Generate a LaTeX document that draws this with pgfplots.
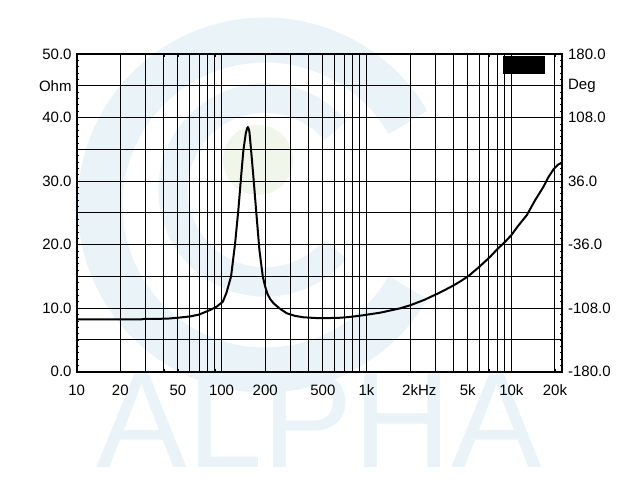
\documentclass[border=0pt]{standalone}
\usepackage{fontspec}
\setmainfont{Liberation Sans}
\usepackage{pgfplots}
\pgfplotsset{compat=1.18}
\definecolor{wm}{RGB}{233,243,248}
\definecolor{wmg}{RGB}{241,246,235}
\begin{document}
\begin{tikzpicture}
\useasboundingbox (0,0) rectangle (480pt,-360pt);
\begin{scope}[x=0.75pt,y=-0.75pt]
  \draw[wm, line width=33.75pt] (265,205) ++(30:165) arc[start angle=30,end angle=330,radius=165];
  \draw[wm, line width=22pt] (265,190) ++(40:92) arc[start angle=40,end angle=320,radius=92];
  \fill[wmg] (258,160) circle (35);
  \node[anchor=base west, inner sep=0pt, text=wm, font=\fontsize{101.8}{110}\selectfont] at (96.7,467) {ALPHA};
\end{scope}
\begin{axis}[
  at={(57.5pt,-278.8pt)}, anchor=south west,
  scale only axis, width=364.3pt, height=238.3pt,
  xmode=log, xmin=10, xmax=22500, ymin=0, ymax=50,
  axis line style={line width=1.5pt},
  xtick={10,20,50,100,200,500,1000,2000,5000,10000,20000},
  xticklabels={10,20,50,100,200,500,1k,2k\rlap{Hz},5k,10k,20k},
  minor xtick={30,40,60,70,80,90,300,400,600,700,800,900,3000,4000,6000,7000,8000,9000},
  xmajorgrids, xminorgrids, ymajorgrids,
  major grid style={black, line width=0.75pt},
  minor grid style={black, line width=0.75pt},
  ytick={0,5,...,50},
  yticklabels={0.0,,10.0,,20.0,,30.0,,40.0,Ohm,50.0},
  minor ytick={0,1,...,50},
  ytick pos=both, yticklabel pos=left,
  xtick pos=both, xticklabel pos=bottom,
  tick align=inside,
  major tick length=2pt, minor tick length=2pt,
  tick style={black, line width=0.6pt},
  ticklabel style={font=\fontsize{11.25}{13}\selectfont},
  xticklabel style={yshift=-6.5pt},
  yticklabel style={xshift=-0.3pt},
]
\addplot[black, line width=1.5pt, line join=round] coordinates {
(10,8.25)(20,8.25)(28,8.25)(29,8.3)(42,8.35)(50,8.5)(60.6,8.7)(70,9.0)(83,9.7)
(92.6,10.25)(101.9,11.0)(108,12.4)(116.3,15.0)(124,20.2)(130.6,25.5)(136.4,30.7)
(141.5,34.9)(146.9,37.5)(150,38.3)(151.7,38.5)(153.5,38.3)(155.6,37.8)(159.8,34.9)(165.8,30.7)
(173,25.5)(182.4,19.2)(192.5,15.0)(200,13.4)(207,12.3)(217,11.4)(228,10.8)(250,10.0)(282,9.2)
(320,8.8)(367,8.57)(450,8.45)(624,8.46)(750,8.6)(904,8.82)(1243,9.29)(1709,9.98)(2003,10.46)
(2500,11.3)(3062,12.24)(3500,12.9)(4000,13.6)(4500,14.3)(5061,15.07)(6000,16.5)(7145,18.1)
(8000,19.3)(9075,20.47)(10000,21.5)(11000,22.8)(12810,24.68)(14500,26.9)(16670,29.13)
(18000,30.6)(19560,31.87)(21000,32.6)(22350,32.9)
};
\end{axis}
\begin{axis}[
  at={(57.5pt,-278.8pt)}, anchor=south west,
  scale only axis, width=364.3pt, height=238.3pt,
  xmode=log, xmin=10, xmax=22500, ymin=-180, ymax=180,
  hide x axis,
  axis y line*=right,
  axis line style={line width=1.5pt,-},
  ytick={-180,-108,-36,36,108,144,180},
  yticklabels={-180.0,-108.0,-36.0,36.0,108.0,Deg,180.0},
  major tick length=0pt,
  ticklabel style={font=\fontsize{11.25}{13}\selectfont},
  yticklabel style={xshift=0.75pt},
]
\addplot[draw=none] coordinates {(100,0)};
\end{axis}
\begin{scope}[x=0.75pt,y=-0.75pt]
  \fill[black] (503.3,56) rectangle (545,74.3);
\end{scope}
\end{tikzpicture}
\end{document}
